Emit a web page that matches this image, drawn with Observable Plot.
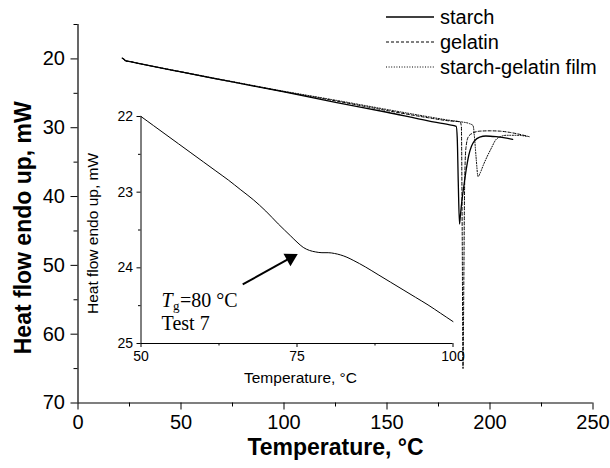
<!DOCTYPE html>
<html><head><meta charset="utf-8">
<script src="https://cdn.jsdelivr.net/npm/d3@7"></script>
<script src="https://cdn.jsdelivr.net/npm/@observablehq/plot@0.6"></script>
<style>
body{margin:0;background:#fff;}
#wrap{position:relative;width:610px;height:468px;font-family:"Liberation Sans",Arial,Helvetica,sans-serif;color:#000;}
#inset{position:absolute;left:80px;top:100px;}
.lg{position:absolute;left:385px;height:24px;display:flex;align-items:center;font-size:20px;white-space:nowrap;}
.lg svg{margin-right:5px;}
</style></head><body><div id="wrap"></div>
<script>
// ---------- data ----------
const seriesNames = ["starch", "gelatin", "starch-gelatin film"];
const starchT = [21.5, 22.3, 23.2, 24.5, 30, 50, 75, 100, 125, 150, 170, 180, 183.6, 184.1, 184.6, 185.2, 185.7, 186.4, 187.3, 188.5, 189.7, 191, 192.5, 195, 198, 203, 208, 211];
const starchH = [19.9, 20.05, 20.3, 20.35, 20.7, 21.9, 23.35, 24.8, 26.3, 27.75, 29.0, 29.55, 29.8, 31.5, 38, 44, 42.5, 40.5, 38.5, 36, 34, 32.7, 31.9, 31.35, 31.2, 31.3, 31.5, 31.7];
const gelatinT = [21.5, 22.3, 23.2, 24.5, 30, 50, 75, 100, 125, 150, 170, 180, 185.5, 186.1, 186.5, 186.9, 187.3, 187.7, 188.3, 189.5, 191.5, 195, 200, 205, 210, 215, 219];
const gelatinH = [19.9, 20.05, 20.3, 20.35, 20.7, 21.9, 23.35, 24.75, 26.1, 27.5, 28.55, 29.0, 29.15, 29.8, 45, 65, 52, 38, 33, 31.3, 30.8, 30.5, 30.45, 30.5, 30.7, 31.0, 31.3];
const filmT = [21.5, 22.3, 23.2, 24.5, 30, 50, 75, 100, 125, 150, 170, 180, 186, 190, 191.8, 192.5, 193.3, 194.2, 195.2, 196.8, 198.6, 200.6, 202.7, 205, 208, 213, 218];
const filmH = [19.9, 20.05, 20.3, 20.35, 20.7, 21.85, 23.3, 24.7, 26.0, 27.35, 28.4, 28.9, 29.15, 29.4, 29.7, 31.5, 34.5, 37.1, 36.6, 35.4, 34.2, 33.0, 31.8, 31.3, 31.1, 31.1, 31.25];
// inset: starch-gelatin film, Test 7
const insetT = [50, 52, 54, 56, 58, 60, 62, 64, 66, 68, 70, 72, 74, 75, 76, 77, 78, 79, 80, 81, 82, 83, 84, 86, 88, 90, 92, 94, 96, 98, 100];
const insetH = [22.0, 22.12, 22.24, 22.36, 22.48, 22.6, 22.72, 22.84, 22.97, 23.1, 23.25, 23.42, 23.58, 23.66, 23.73, 23.77, 23.79, 23.8, 23.8, 23.81, 23.83, 23.86, 23.9, 23.99, 24.09, 24.19, 24.29, 24.39, 24.49, 24.6, 24.71];
// ticks
const xMajor = [0, 50, 100, 150, 200, 250];
const xMinor = [25, 75, 125, 175, 225];
const yMajor = [20, 30, 40, 50, 60, 70];
const yMinor = [15, 25, 35, 45, 55, 65];
const insetXMajor = [50, 75, 100];
const insetXMinor = [62.5, 87.5];
const insetYMajor = [22, 23, 24, 25];
const insetYMinor = [22.5, 23.5, 24.5];
// annotation
const arrowFrom = [66.3, 24.22];
const arrowTo = [73.45, 23.89];
const arrowHead = [73.97, 23.87];
const tgLabelAt = [53.3, 24.43];
const testLabelAt = [53.3, 24.74];

const sans = '"Liberation Sans", Arial, Helvetica, sans-serif';
const serif = '"Liberation Serif", "Times New Roman", serif';
const dashes = [null, "3,2", "1,1.6"];
const widths = [1.3, 1, 1];
const plain = d => String(d);

const toRows = (T, H) => T.map((t, i) => ({t, h: H[i]}));
const series = [toRows(starchT, starchH), toRows(gelatinT, gelatinH), toRows(filmT, filmH)];

const main = Plot.plot({
  width: 610, height: 468,
  marginLeft: 77.5, marginRight: 17.5, marginTop: 24, marginBottom: 65.5,
  style: {fontFamily: sans, fontSize: "20px", background: "transparent", color: "black"},
  x: {domain: [0, 250], label: null},
  y: {domain: [15, 70], reverse: true, label: null},
  marks: [
    Plot.axisX({ticks: xMajor, tickSize: 7, tickPadding: 5, fontSize: 20, tickFormat: plain, label: null}),
    Plot.axisX({ticks: xMinor, tickSize: 4, text: null, label: null}),
    Plot.axisY({ticks: yMajor, tickSize: 7, tickPadding: 6, fontSize: 20, tickFormat: plain, label: null}),
    Plot.axisY({ticks: yMinor, tickSize: 4, text: null, label: null}),
    Plot.ruleX([0], {stroke: "black", strokeWidth: 1.2}),
    Plot.ruleY([70], {stroke: "black", strokeWidth: 1.2}),
    ...series.map((d, i) => Plot.line(d, {x: "t", y: "h", stroke: "black", strokeWidth: widths[i], strokeDasharray: dashes[i], curve: "monotone-x"})),
    Plot.text(["Temperature, °C"], {frameAnchor: "bottom", dy: 52, fontWeight: "bold", fontSize: 23}),
    Plot.text(["Heat flow endo up, mW"], {frameAnchor: "left", textAnchor: "middle", dx: -54.5, dy: 14, rotate: -90, fontWeight: "bold", fontSize: 23})
  ]
});

const inset = Plot.plot({
  width: 390, height: 300,
  marginLeft: 60.5, marginRight: 17.5, marginTop: 16, marginBottom: 57,
  style: {fontFamily: sans, fontSize: "14px", background: "transparent", color: "black"},
  x: {domain: [50, 100], label: null},
  y: {domain: [22, 25], reverse: true, label: null},
  marks: [
    Plot.axisX({ticks: insetXMajor, tickSize: 4, tickPadding: 4, fontSize: 14, tickFormat: plain, label: null}),
    Plot.axisX({ticks: insetXMinor, tickSize: 2.5, text: null, label: null}),
    Plot.axisY({ticks: insetYMajor, tickSize: 4, tickPadding: 4, fontSize: 14, tickFormat: plain, label: null}),
    Plot.axisY({ticks: insetYMinor, tickSize: 2.5, text: null, label: null}),
    Plot.ruleX([50], {stroke: "black"}),
    Plot.ruleY([25], {stroke: "black"}),
    Plot.line(toRows(insetT, insetH), {x: "t", y: "h", stroke: "black", strokeWidth: 1, curve: "monotone-x"}),
    Plot.link([0], {x1: () => arrowFrom[0], y1: () => arrowFrom[1], x2: () => arrowTo[0], y2: () => arrowTo[1], stroke: "black", strokeWidth: 2}),
    Plot.dot([0], {x: () => arrowHead[0], y: () => arrowHead[1], symbol: "triangle", r: 5.3, rotate: 60.8, fill: "black", stroke: null}),
    Plot.text(["T"], {x: () => tgLabelAt[0], y: () => tgLabelAt[1], textAnchor: "start", fontFamily: serif, fontStyle: "italic", fontSize: 20}),
    Plot.text(["g"], {x: () => tgLabelAt[0], y: () => tgLabelAt[1], dx: 11.5, dy: 5, textAnchor: "start", fontFamily: serif, fontSize: 13}),
    Plot.text(["=80 °C"], {x: () => tgLabelAt[0], y: () => tgLabelAt[1], dx: 18.5, textAnchor: "start", fontFamily: serif, fontSize: 20}),
    Plot.text(["Test 7"], {x: () => testLabelAt[0], y: () => testLabelAt[1], textAnchor: "start", fontFamily: serif, fontSize: 20}),
    Plot.text(["Temperature, °C"], {frameAnchor: "bottom", dx: 3.5, dy: 39, fontSize: 15.5}),
    Plot.text(["Heat flow endo up, mW"], {frameAnchor: "left", textAnchor: "middle", dx: -47.5, dy: 3.5, rotate: -90, fontSize: 15.5})
  ]
});
inset.id = "inset";

const wrap = document.getElementById("wrap");
wrap.appendChild(main);
wrap.appendChild(inset);

// legend (in-plot, top right)
const legendRowsY = [17, 42, 67];
seriesNames.forEach((name, i) => {
  const row = document.createElement("div");
  row.className = "lg";
  row.style.top = (legendRowsY[i] - 12) + "px";
  row.innerHTML = `<svg width="50" height="10"><line x1="1" x2="49" y1="5" y2="5" stroke="black" stroke-width="${widths[i]}" ${dashes[i] ? `stroke-dasharray="${dashes[i]}"` : ""}/></svg><span>${name}</span>`;
  wrap.appendChild(row);
});
</script>
</body></html>
